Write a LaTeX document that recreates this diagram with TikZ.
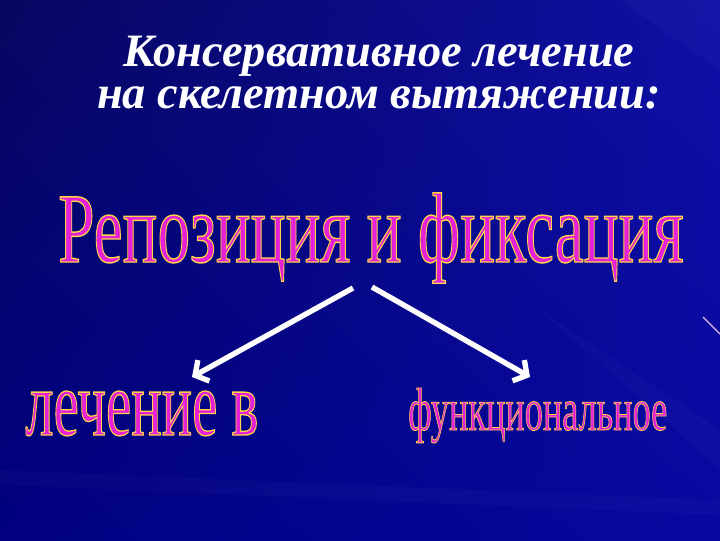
\documentclass[tikz,border=0pt]{standalone}
\usepackage{fontspec}
\setmainfont{Liberation Serif}
\usetikzlibrary{arrows.meta,shadings}
\definecolor{artmagenta}{RGB}{228,32,216}
\definecolor{slidetl}{RGB}{6,6,96}
\definecolor{slidetr}{RGB}{16,16,166}
\definecolor{slidebl}{RGB}{0,0,128}
\definecolor{slidebr}{RGB}{8,8,160}
\definecolor{streakpink}{RGB}{225,185,235}
\tikzset{
  titletext/.style={text=white, inner sep=0pt, align=center,
    font=\fontsize{33}{29.9}\selectfont\bfseries\itshape},
  wordart/.style={inner sep=0pt, text=artmagenta, anchor=base west},
  bigarrow/.style={white, line width=3.8pt, -{Straight Barb[length=7pt,width=17pt]}},
  glow/.style={white, opacity=0.025},
}
% stretched letters, filled and rimmed in yellow; width and height in pt
\newcommand{\artword}[3]{\resizebox{#1}{#2}{%
  \special{pdf:literal direct 2 Tr 0.14 w 1 0.84 0.27 RG}#3%
  \special{pdf:literal direct 0 Tr}}}
\begin{document}
\begin{tikzpicture}[x=0.025cm,y=-0.025cm]
\useasboundingbox (0,0) rectangle (720,540);
% background of the slide
\shade[upper left=slidetl, upper right=slidetr, lower left=slidebl, lower right=slidebr]
  (0,0) rectangle (720,540);
\fill[glow] (620,0) -- (720,0) -- (720,70) -- cycle;
\fill[glow] (540,310) -- (720,430) -- (720,470) -- cycle;
\fill[glow] (0,470) -- (720,500) -- (720,515) -- (0,485) -- cycle;
\draw[streakpink, line width=0.8pt] (703,317) -- (720,334);
% title
\node[titletext, anchor=north] (title) at (379,36)
  {Консервативное лечение\\на скелетном вытяжении:};
% word art
\node[wordart] (repo) at (58,262) {\artword{444.6pt}{49.1pt}{Репозиция и фиксация}};
\node[wordart] (lechenie) at (25,435) {\artword{165.7pt}{31.3pt}{лечение в}};
\node[wordart] (funk) at (408,430) {\artword{184.2pt}{29.9pt}{функциональное}};
% arrows
\coordinate (forkL) at (353,288);
\coordinate (forkR) at (372,287);
\coordinate (tipL) at (192,377);
\coordinate (tipR) at (530,377);
\draw[bigarrow] (forkL) -- (tipL);
\draw[bigarrow] (forkR) -- (tipR);
\end{tikzpicture}
\end{document}
